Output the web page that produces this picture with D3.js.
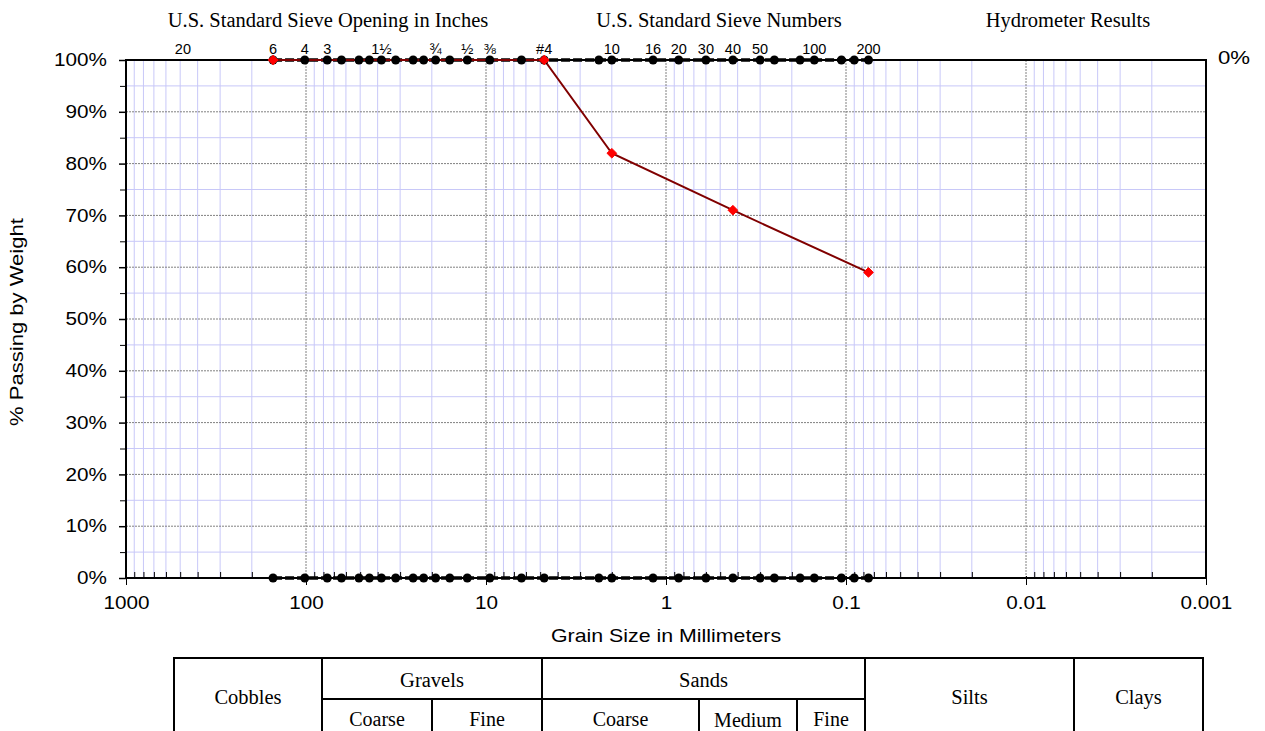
<!DOCTYPE html>
<html>
<head>
<meta charset="utf-8">
<style>
body { margin: 0; background: #fff; }
.axis text { font-family: Arial, "Liberation Sans", sans-serif; font-size: 18px; fill: #000; }
.axis .domain { display: none; }
.serif { font-family: "Times New Roman", "Liberation Serif", serif; }
.sans { font-family: Arial, "Liberation Sans", sans-serif; }
</style>
</head>
<body>
<svg width="1265" height="731"></svg>
<script src="https://d3js.org/d3.v7.min.js"></script>
<script>

// sieve openings (mm) marked with dots along 0% and 100%
var sieveSizes = [152.4, 101.6, 76.2, 63.5, 50.8, 44.45, 38.1, 31.75, 25.4, 22.2, 19.05, 15.9, 12.7, 9.525, 6.35, 4.75,
                  2.36, 2.0, 1.18, 0.85, 0.6, 0.425, 0.3, 0.25, 0.18, 0.15, 0.106, 0.09, 0.075];

// labels written above the plot
var sieveLabels = ["20", "6", "4", "3", "1½", "¾", "½", "⅜", "#4", "10", "16", "20", "30", "40", "50", "100", "200"];
var sieveLabelSizes = [508, 152.4, 101.6, 76.2, 38.1, 19.05, 12.7, 9.525, 4.75, 2.0, 1.18, 0.85, 0.6, 0.425, 0.3, 0.15, 0.075];

// sample gradation
var sampleSizes = [152.4, 4.75, 2.0, 0.425, 0.075];
var samplePassing = [1.00, 1.00, 0.82, 0.71, 0.59];

var xTicks = [1000, 100, 10, 1, 0.1, 0.01, 0.001];
var xTickLabels = ["1000", "100", "10", "1", "0.1", "0.01", "0.001"];
var yTicks = [0, 0.1, 0.2, 0.3, 0.4, 0.5, 0.6, 0.7, 0.8, 0.9, 1.0];

var headers = ["U.S. Standard Sieve Opening in Inches", "U.S. Standard Sieve Numbers", "Hydrometer Results"];

var svg = d3.select("svg"),
    margin = {top: 60, right: 59, bottom: 153, left: 126},
    width = +svg.attr("width") - margin.left - margin.right,
    height = +svg.attr("height") - margin.top - margin.bottom,
    g = svg.append("g").attr("transform", "translate(" + margin.left + "," + margin.top + ")");

var x = d3.scaleLog().domain([1000, 0.001]).range([0, width]);
var y = d3.scaleLinear().domain([0, 1]).range([height, 0]);

// the chart was stretched sideways, so the sans text is a bit wide
var stretch = 1.15;

// minor log values 2..9 in each decade
var xMinor = [];
for (var e = -3; e < 3; e++) {
  for (var m = 2; m <= 9; m++) xMinor.push(m * Math.pow(10, e));
}
var yMinor = d3.range(0.05, 1, 0.1);

// grid
g.append("g").selectAll("line").data(xMinor).enter().append("line")
    .attr("x1", function(d) { return x(d); }).attr("x2", function(d) { return x(d); })
    .attr("y1", 0).attr("y2", height)
    .attr("stroke", "#c8c8f8").attr("stroke-width", 1);
g.append("g").selectAll("line").data(yMinor).enter().append("line")
    .attr("x1", 0).attr("x2", width)
    .attr("y1", function(d) { return y(d); }).attr("y2", function(d) { return y(d); })
    .attr("stroke", "#c8c8f8").attr("stroke-width", 1);
g.append("g").selectAll("line").data(xTicks.slice(1, -1)).enter().append("line")
    .attr("x1", function(d) { return x(d); }).attr("x2", function(d) { return x(d); })
    .attr("y1", 0).attr("y2", height)
    .attr("stroke", "#808080").attr("stroke-width", 1).attr("stroke-dasharray", "2,1");
g.append("g").selectAll("line").data(yTicks.slice(1, -1)).enter().append("line")
    .attr("x1", 0).attr("x2", width)
    .attr("y1", function(d) { return y(d); }).attr("y2", function(d) { return y(d); })
    .attr("stroke", "#808080").attr("stroke-width", 1).attr("stroke-dasharray", "2,1");

// axes
var yAxis = g.append("g")
    .attr("class", "axis")
    .call(d3.axisLeft(y).tickValues(yTicks).tickSize(7).tickPadding(12).tickFormat(d3.format(".0%")));
yAxis.selectAll("line").attr("stroke-width", 1.5);
yAxis.selectAll("text")
    .attr("x", function() { return +d3.select(this).attr("x") / stretch; })
    .attr("transform", "scale(" + stretch + ",1)");
g.append("g")
    .attr("class", "axis")
    .call(d3.axisLeft(y).tickValues(yMinor).tickSize(6).tickFormat(""));

var xAxis = g.append("g")
    .attr("class", "axis")
    .attr("transform", "translate(0," + height + ")")
    .call(d3.axisBottom(x).tickValues(xTicks).tickSize(7).tickPadding(11)
      .tickFormat(function(d, i) { return xTickLabels[i]; }));
xAxis.selectAll("line").attr("y1", -2);
xAxis.selectAll("text").attr("transform", "scale(" + stretch + ",1)");
g.append("g")
    .attr("class", "axis")
    .attr("transform", "translate(0," + height + ")")
    .call(d3.axisBottom(x).tickValues(xMinor).tickSize(-6).tickFormat(""));

// frame
g.append("rect")
    .attr("width", width).attr("height", height)
    .attr("fill", "none").attr("stroke", "#000").attr("stroke-width", 2);

// sieve rows
[0, 1].forEach(function(v) {
  g.append("path")
      .datum(sieveSizes)
      .attr("fill", "none")
      .attr("stroke", "#000")
      .attr("stroke-width", 3.5)
      .attr("stroke-dasharray", "9,3")
      .attr("d", d3.line().x(function(d) { return x(d); }).y(y(v)));
});

var line = d3.line()
    .x(function(d, i) { return x(sampleSizes[i]); })
    .y(function(d) { return y(d); });

g.append("path")
    .datum(samplePassing)
    .attr("fill", "none")
    .attr("stroke", "#800000")
    .attr("stroke-width", 2)
    .attr("d", line);

[0, 1].forEach(function(v) {
  g.append("g").selectAll("circle").data(sieveSizes).enter().append("circle")
      .attr("cx", function(d) { return x(d); })
      .attr("cy", y(v))
      .attr("r", 4.5)
      .attr("fill", "#000");
});

g.append("g").selectAll("path").data(samplePassing).enter().append("path")
    .attr("transform", function(d, i) { return "translate(" + x(sampleSizes[i]) + "," + y(d) + ")"; })
    .attr("d", d3.symbol().type(d3.symbolDiamond2).size(60))
    .attr("fill", "#ff0000")
    .attr("stroke", "#ff0000")
    .attr("stroke-width", 1);

// sieve labels
g.append("g").selectAll("text").data(sieveLabels).enter().append("text")
    .attr("class", "sans")
    .attr("x", function(d, i) { return x(sieveLabelSizes[i]) + (i === 0 ? 4 : 0); })
    .attr("y", -6)
    .attr("text-anchor", "middle")
    .attr("font-size", 14.5)
    .text(function(d) { return d; });

// headers
var headerX = [328, 719, 1068];
svg.append("g").selectAll("text").data(headers).enter().append("text")
    .attr("class", "serif")
    .attr("x", function(d, i) { return headerX[i]; })
    .attr("y", 27)
    .attr("text-anchor", "middle")
    .attr("font-size", 20.5)
    .text(function(d) { return d; });

svg.append("text")
    .attr("class", "sans")
    .attr("transform", "translate(1234,64) scale(1.2,1)")
    .attr("text-anchor", "middle")
    .attr("font-size", 18.5)
    .text("0%");

// axis titles
svg.append("text")
    .attr("class", "sans")
    .attr("transform", "translate(" + (margin.left + x(1)) + ",642) scale(1.22,1)")
    .attr("text-anchor", "middle")
    .attr("font-size", 17.5)
    .text("Grain Size in Millimeters");

svg.append("text")
    .attr("class", "sans")
    .attr("transform", "translate(23,322) rotate(-90) scale(1.26,1)")
    .attr("text-anchor", "middle")
    .attr("font-size", 17.5)
    .text("% Passing by Weight");

// soil classification table
var cellsTop = [
  {name: "Cobbles", x0: 174, x1: 322, full: true},
  {name: "Gravels", x0: 322, x1: 542},
  {name: "Sands", x0: 542, x1: 865},
  {name: "Silts", x0: 865, x1: 1074, full: true},
  {name: "Clays", x0: 1074, x1: 1203, full: true}
];
var cellsSub = [
  {name: "Coarse", x0: 322, x1: 432},
  {name: "Fine", x0: 432, x1: 542},
  {name: "Coarse", x0: 542, x1: 699},
  {name: "Medium", x0: 699, x1: 797},
  {name: "Fine", x0: 797, x1: 865}
];
var tTop = 658, tMid = 699, tBot = 745;

var table = svg.append("g").attr("class", "serif");
table.selectAll(".top").data(cellsTop).enter().append("rect")
    .attr("x", function(d) { return d.x0; })
    .attr("y", tTop)
    .attr("width", function(d) { return d.x1 - d.x0; })
    .attr("height", tBot - tTop)
    .attr("fill", "none").attr("stroke", "#000").attr("stroke-width", 2);
table.selectAll(".sub").data(cellsSub).enter().append("rect")
    .attr("x", function(d) { return d.x0; })
    .attr("y", tMid)
    .attr("width", function(d) { return d.x1 - d.x0; })
    .attr("height", tBot - tMid)
    .attr("fill", "none").attr("stroke", "#000").attr("stroke-width", 2);
table.selectAll(".toptext").data(cellsTop).enter().append("text")
    .attr("x", function(d) { return (d.x0 + d.x1) / 2; })
    .attr("y", function(d) { return d.full ? 704 : 687; })
    .attr("text-anchor", "middle")
    .attr("font-size", 20.5)
    .text(function(d) { return d.name; });
table.selectAll(".subtext").data(cellsSub).enter().append("text")
    .attr("x", function(d) { return (d.x0 + d.x1) / 2; })
    .attr("y", function(d) { return d.name === "Medium" ? 727 : 726; })
    .attr("text-anchor", "middle")
    .attr("font-size", 20)
    .text(function(d) { return d.name; });

</script>
</body>
</html>
